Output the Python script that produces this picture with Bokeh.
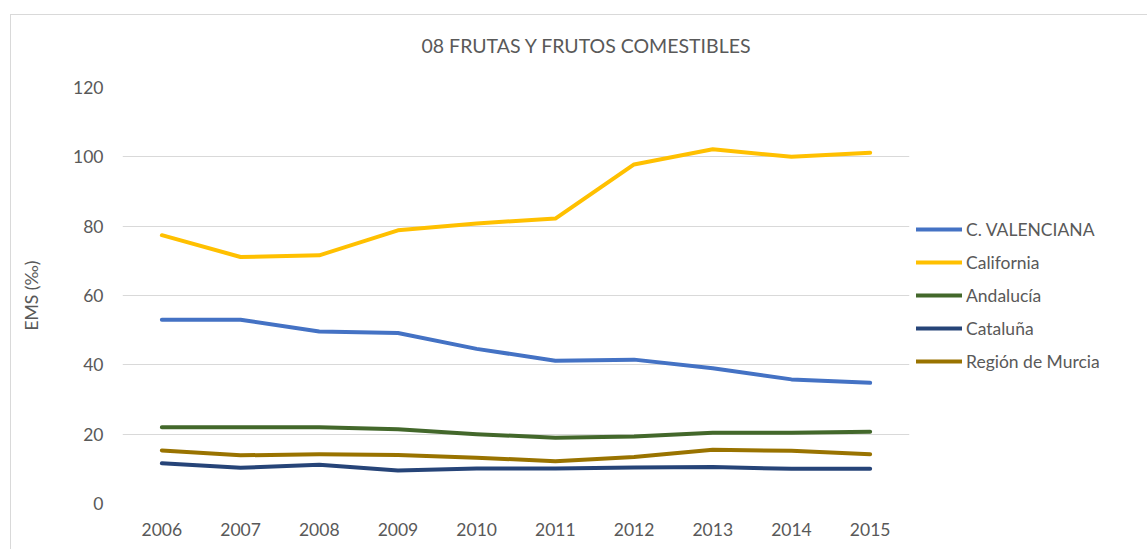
from bokeh.plotting import figure
from bokeh.models import Range1d, FactorRange, Legend, LegendItem, InlineStyleSheet
from bokeh.embed import file_html
from bokeh.resources import INLINE

years = ["2006", "2007", "2008", "2009", "2010", "2011", "2012", "2013", "2014", "2015"]
valenciana = [53.0, 53.0, 49.6, 49.2, 44.6, 41.2, 41.5, 39.0, 35.8, 34.8]
california = [77.4, 71.1, 71.6, 78.8, 80.8, 82.2, 97.8, 102.2, 100.0, 101.2]
andalucia = [22.0, 22.0, 22.0, 21.4, 20.0, 19.0, 19.3, 20.4, 20.4, 20.7]
cataluna = [11.6, 10.3, 11.2, 9.5, 10.1, 10.1, 10.4, 10.5, 10.0, 10.0]
murcia = [15.3, 13.9, 14.2, 14.0, 13.2, 12.2, 13.4, 15.5, 15.2, 14.2]
y_ticks = [0, 20, 40, 60, 80, 100, 120]

series = [
    ("C. VALENCIANA", valenciana, "#4472C4"),
    ("California", california, "#FFC000"),
    ("Andalucía", andalucia, "#43682B"),
    ("Cataluña", cataluna, "#264478"),
    ("Región de Murcia", murcia, "#997300"),
]

FONT = "Lato"
TXT = "#595959"

border_css = InlineStyleSheet(css="""
:host::after {
  content: "";
  position: absolute;
  left: 10px; top: 14px; right: -20px; bottom: -20px;
  border-left: 1px solid #d9d9d9;
  border-top: 1px solid #d9d9d9;
  pointer-events: none;
  z-index: 5;
}
""")

p = figure(x_range=FactorRange(*years), y_range=Range1d(0, 120),
           frame_width=787, frame_height=416, output_backend="svg", toolbar_location=None,
           min_border_left=122, min_border_right=230, min_border_top=87, min_border_bottom=42)
p.stylesheets = [border_css]
p.outline_line_color = None
p.background_fill_color = "white"
p.border_fill_color = "white"

p.title.text = "08 FRUTAS Y FRUTOS COMESTIBLES"
p.title.align = "left"
p.title.offset = 299
p.title.standoff = 61
p.title.text_font = FONT
p.title.text_font_size = "19.5px"
p.title.text_font_style = "normal"
p.title.text_color = TXT

p.xgrid.grid_line_color = None
p.ygrid.grid_line_color = "#d9d9d9"
p.ygrid.grid_line_width = 1
p.yaxis.ticker = y_ticks

for ax in (p.xaxis[0], p.yaxis[0]):
    ax.axis_line_color = None
    ax.major_tick_line_color = None
    ax.minor_tick_line_color = None
    ax.major_tick_out = 0
    ax.major_tick_in = 0
    ax.major_label_text_font = FONT
    ax.major_label_text_font_size = "17.5px"
    ax.major_label_text_color = TXT

p.xaxis.major_label_standoff = 19
p.yaxis.major_label_standoff = 19
p.yaxis.axis_label = "EMS (‰)"
p.yaxis.axis_label_text_font = FONT
p.yaxis.axis_label_text_font_size = "17.5px"
p.yaxis.axis_label_text_font_style = "normal"
p.yaxis.axis_label_text_color = TXT
p.yaxis.axis_label_standoff = 28

items = []
for name, vals, col in series:
    r = p.line(x=years, y=vals, line_color=col, line_width=4, line_cap="round", line_join="round")
    items.append(LegendItem(label=name, renderers=[r]))

legend = Legend(items=items, location="left", glyph_width=46, glyph_height=21,
                label_height=21, spacing=12, label_standoff=4, padding=0, margin=7,
                border_line_color=None, background_fill_alpha=0,
                label_text_font=FONT, label_text_font_size="17.5px", label_text_color=TXT)
p.add_layout(legend, "right")

open("out.html", "w").write(file_html(p, INLINE))
